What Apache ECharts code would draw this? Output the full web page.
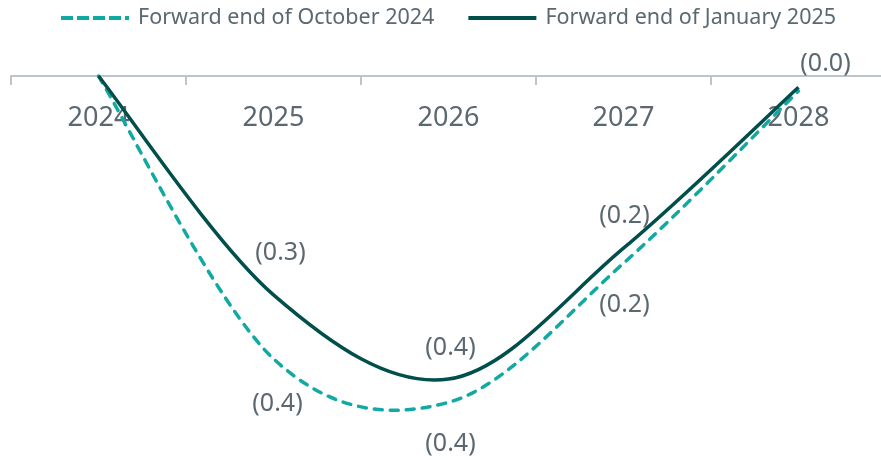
<!DOCTYPE html>
<html>
<head>
<meta charset="utf-8">
<style>
  html, body { margin: 0; padding: 0; background: #fff; }
  #chart { width: 881px; height: 460px; }
</style>
<script src="https://cdn.jsdelivr.net/npm/echarts@6/dist/echarts.min.js"></script>
</head>
<body>
<div id="chart"></div>
<script>
// categories and read-off values (negative = below zero)
var years = ['2024', '2025', '2026', '2027', '2028'];
var octValues = [0, -0.376, -0.434, -0.249, -0.02];
var janValues = [0, -0.291, -0.403, -0.229, -0.015];
// which points carry a value label
var octLabelShown = [false, true, true, true, false];
var janLabelShown = [false, true, true, true, true];

var textColor = '#5b6870';
var fontName = 'Noto Sans';
var octColor = '#12a9a3';
var janColor = '#004f4b';

// label placement relative to the point (style only)
var octLabelOffset = [[0, 42], [4, 45], [2, 42], [1, 42], [0, 42]];
var janLabelOffset = [[0, -31], [7, -42], [2, -31], [1, -32], [27, -23]];

function fmt(v) {
    return '(' + Math.abs(v).toFixed(1) + ')';
}

// smooth curve (catmull-rom) through the points, plus value labels
function curveRender(vals, color, dash, shown, offsets) {
    return function (params, api) {
        if (params.dataIndex !== 0) {
            return;
        }
        var pts = vals.map(function (v, i) { return api.coord([i, v]); });
        var n = pts.length;
        var d = 'M' + pts[0][0] + ' ' + pts[0][1];
        for (var i = 0; i < n - 1; i++) {
            var p0 = pts[Math.max(i - 1, 0)];
            var p1 = pts[i];
            var p2 = pts[i + 1];
            var p3 = pts[Math.min(i + 2, n - 1)];
            var c1x = p1[0] + (p2[0] - p0[0]) / 6;
            var c1y = p1[1] + (p2[1] - p0[1]) / 6;
            var c2x = p2[0] - (p3[0] - p1[0]) / 6;
            var c2y = p2[1] - (p3[1] - p1[1]) / 6;
            d += ' C' + c1x + ' ' + c1y + ' ' + c2x + ' ' + c2y + ' ' + p2[0] + ' ' + p2[1];
        }
        var children = [{
            type: 'path',
            shape: { pathData: d },
            style: {
                fill: 'none',
                stroke: color,
                lineWidth: 3.5,
                lineDash: dash,
                lineCap: dash ? 'round' : 'butt'
            }
        }];
        pts.forEach(function (p, i) {
            if (!shown[i]) {
                return;
            }
            children.push({
                type: 'text',
                x: p[0] + offsets[i][0],
                y: p[1] + offsets[i][1],
                style: {
                    text: fmt(vals[i]),
                    fill: textColor,
                    font: '25px "' + fontName + '"',
                    align: 'center',
                    verticalAlign: 'middle'
                }
            });
        });
        return { type: 'group', children: children };
    };
}

function pairs(vals) {
    return vals.map(function (v, i) { return [i, v]; });
}

var myChart = echarts.init(document.getElementById('chart'));
myChart.setOption({
    animation: false,
    legend: {
        top: 7,
        left: 61,
        padding: 0,
        itemWidth: 68,
        itemHeight: 4,
        itemGap: 34,
        textStyle: {
            color: textColor,
            fontFamily: fontName,
            fontSize: 21.5,
            padding: [0, 0, 0, 4]
        },
        data: [{
            name: 'Forward end of October 2024',
            icon: 'path://M0 0h12v4H0z M16 0h12v4H16z M32 0h12v4H32z M48 0h12v4H48z M64 0h4v4H64z'
        }, {
            name: 'Forward end of January 2025',
            icon: 'path://M0 0h68v4H0z'
        }]
    },
    grid: {
        left: 11,
        right: -5,
        top: 76,
        bottom: 8,
        containLabel: false,
        outerBoundsMode: 'none'
    },
    xAxis: {
        type: 'category',
        position: 'top',
        data: years,
        boundaryGap: true,
        axisLine: {
            lineStyle: { color: '#bcc5ca', width: 2 }
        },
        axisTick: {
            show: true,
            interval: 0,
            inside: true,
            length: 9,
            lineStyle: { color: '#bcc5ca', width: 2 }
        },
        axisLabel: {
            inside: true,
            margin: 29,
            color: textColor,
            fontFamily: fontName,
            fontSize: 27
        },
        splitLine: { show: false }
    },
    yAxis: {
        type: 'value',
        min: -0.5,
        max: 0,
        show: false
    },
    series: [{
        name: 'Forward end of October 2024',
        type: 'custom',
        itemStyle: { color: octColor },
        renderItem: curveRender(octValues, octColor, [8, 8], octLabelShown, octLabelOffset),
        data: pairs(octValues),
        z: 2
    }, {
        name: 'Forward end of January 2025',
        type: 'custom',
        itemStyle: { color: janColor },
        renderItem: curveRender(janValues, janColor, null, janLabelShown, janLabelOffset),
        data: pairs(janValues),
        z: 3
    }]
});
</script>
</body>
</html>
